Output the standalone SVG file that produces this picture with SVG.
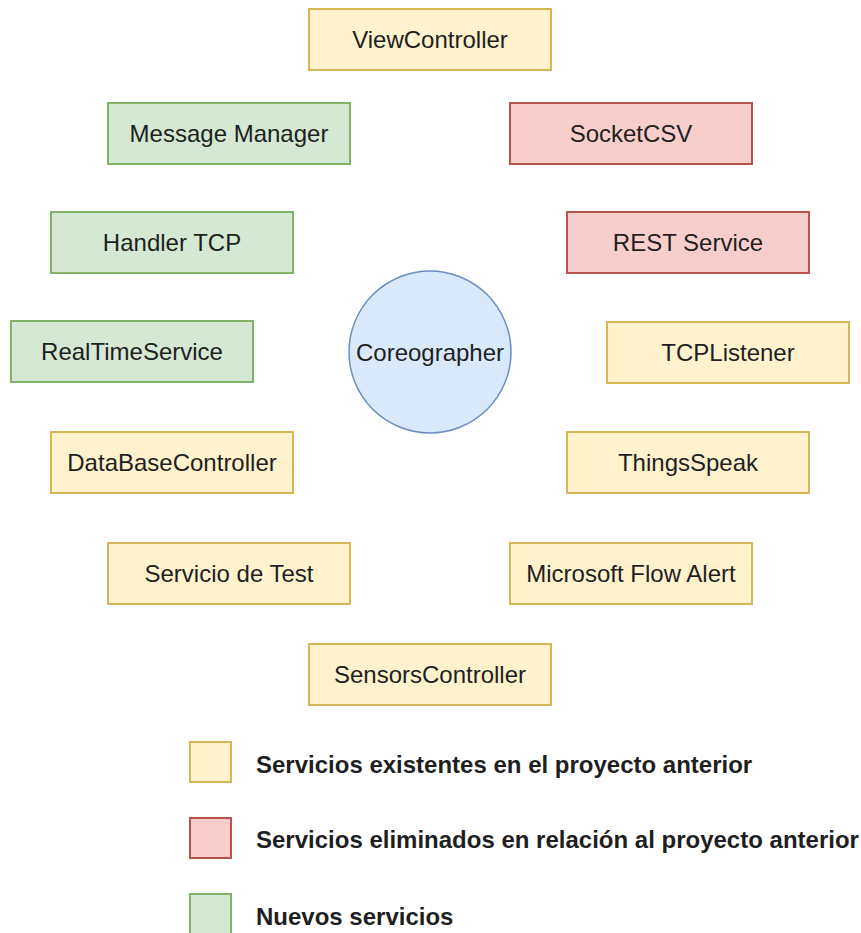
<svg xmlns="http://www.w3.org/2000/svg" width="861" height="933" viewBox="0 0 861 933">
  <style>
    .box { stroke-width: 2; }
    .existing { fill: #fff2cc; stroke: #d6b656; }
    .removed { fill: #f8cecc; stroke: #b85450; }
    .added { fill: #d5e8d4; stroke: #82b366; }
    .core { fill: #dae8fc; stroke: #6c8ebf; stroke-width: 1.5; }
    .label { font-family: "Liberation Sans", Arial, sans-serif; font-size: 24px; fill: #1f1f1f; text-anchor: middle; }
    .legend { font-family: "Liberation Sans", Arial, sans-serif; font-size: 24px; font-weight: bold; fill: #1f1f1f; }
  </style>
  <rect width="861" height="933" fill="#ffffff"/>

  <g id="connectors"></g>

  <g id="view-controller">
    <rect class="box existing" x="309" y="9" width="242" height="61"/>
    <text class="label" x="430" y="48">ViewController</text>
  </g>
  <g id="message-manager">
    <rect class="box added" x="108" y="103" width="242" height="61"/>
    <text class="label" x="229" y="142">Message Manager</text>
  </g>
  <g id="socket-csv">
    <rect class="box removed" x="510" y="103" width="242" height="61"/>
    <text class="label" x="631" y="142">SocketCSV</text>
  </g>
  <g id="handler-tcp">
    <rect class="box added" x="51" y="212" width="242" height="61"/>
    <text class="label" x="172" y="251">Handler TCP</text>
  </g>
  <g id="rest-service">
    <rect class="box removed" x="567" y="212" width="242" height="61"/>
    <text class="label" x="688" y="251">REST Service</text>
  </g>
  <g id="realtime-service">
    <rect class="box added" x="11" y="321" width="242" height="61"/>
    <text class="label" x="132" y="360">RealTimeService</text>
  </g>
  <g id="coreographer">
    <circle class="core" cx="430" cy="352" r="81"/>
    <text class="label" x="430" y="361">Coreographer</text>
  </g>
  <g id="tcp-listener">
    <rect class="box existing" x="607" y="322" width="242" height="61"/>
    <text class="label" x="728" y="361">TCPListener</text>
  </g>
  <g id="database-controller">
    <rect class="box existing" x="51" y="432" width="242" height="61"/>
    <text class="label" x="172" y="471">DataBaseController</text>
  </g>
  <g id="things-speak">
    <rect class="box existing" x="567" y="432" width="242" height="61"/>
    <text class="label" x="688" y="471">ThingsSpeak</text>
  </g>
  <g id="servicio-test">
    <rect class="box existing" x="108" y="543" width="242" height="61"/>
    <text class="label" x="229" y="582">Servicio de Test</text>
  </g>
  <g id="flow-alert">
    <rect class="box existing" x="510" y="543" width="242" height="61"/>
    <text class="label" x="631" y="582">Microsoft Flow Alert</text>
  </g>
  <g id="sensors-controller">
    <rect class="box existing" x="309" y="644" width="242" height="61"/>
    <text class="label" x="430" y="683">SensorsController</text>
  </g>

  <g id="legend-existing">
    <rect class="box existing" x="190" y="742" width="41" height="40"/>
    <text class="legend" x="256" y="773">Servicios existentes en el proyecto anterior</text>
  </g>
  <g id="legend-removed">
    <rect class="box removed" x="190" y="818" width="41" height="40"/>
    <text class="legend" x="256" y="848">Servicios eliminados en relación al proyecto anterior</text>
  </g>
  <g id="legend-added">
    <rect class="box added" x="190" y="894" width="41" height="40"/>
    <text class="legend" x="256" y="925">Nuevos servicios</text>
  </g>
</svg>
